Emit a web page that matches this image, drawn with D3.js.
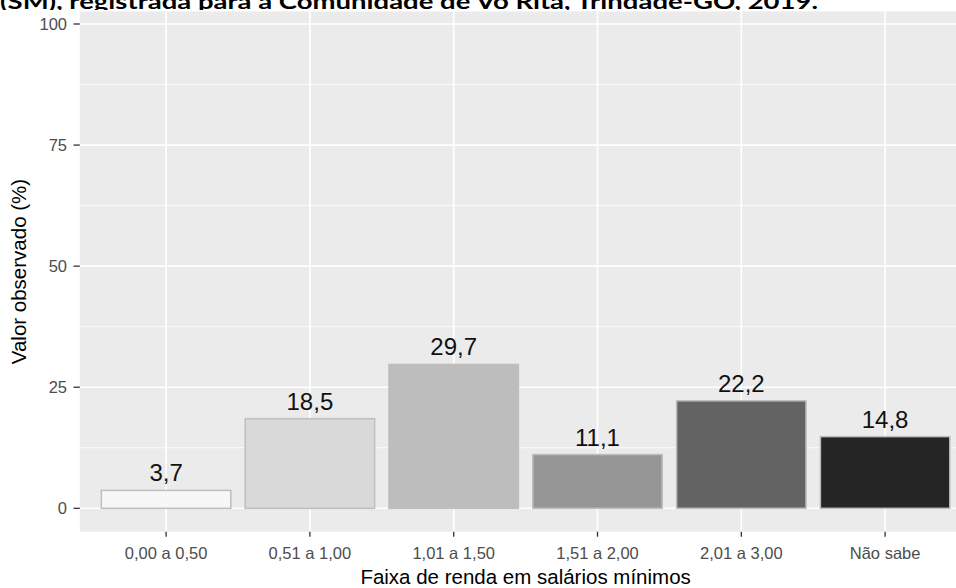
<!DOCTYPE html>
<html><head><meta charset="utf-8">
<script src="https://cdn.jsdelivr.net/npm/d3@7"></script>
<style>html,body{margin:0;padding:0;background:#fff;overflow:hidden}</style>
</head><body>
<script>
const categories = ["0,00 a 0,50","0,51 a 1,00","1,01 a 1,50","1,51 a 2,00","2,01 a 3,00","Não sabe"];
const values = [3.7, 18.5, 29.7, 11.1, 22.2, 14.8];
const labels = ["3,7","18,5","29,7","11,1","22,2","14,8"];
const fills = ["#F7F7F7","#D9D9D9","#BDBDBD","#969696","#636363","#252525"];
const yTicks = [0, 25, 50, 75, 100];
const yMinor = [12.5, 37.5, 62.5, 87.5];
const titleText = "(SM), registrada para a Comunidade de Vó Rita, Trindade-GO, 2019.";
const xTitle = "Faixa de renda em salários mínimos";
const yTitle = "Valor observado (%)";

const W = 956, H = 588;
const svg = d3.select("body").append("svg").attr("width", W).attr("height", H);

const y = d3.scaleLinear().domain([0, 100]).range([508.3, 24]);
const panelTop = y(102.6), panelBottom = y(-4.83);
const panelLeft = 79.8, panelRight = 79.8 + 891.6;
const x = d3.scaleBand().domain(categories).range([panelLeft, panelRight])
  .paddingInner(0.1).paddingOuter(0.15);
const step = x.step();

// title (cropped)
svg.append("defs").append("clipPath").attr("id","tclip")
  .append("rect").attr("x",0).attr("y",0).attr("width",W).attr("height",10);
svg.append("text").attr("clip-path","url(#tclip)")
  .attr("x", 0).attr("y", 8.5)
  .attr("font-family","Lato, 'Open Sans', sans-serif").attr("font-weight","bold")
  .attr("font-size", 20).attr("fill","#000")
  .attr("textLength", 818).attr("lengthAdjust","spacingAndGlyphs")
  .text(titleText);

// panel
svg.append("rect").attr("x", panelLeft).attr("y", panelTop)
  .attr("width", panelRight - panelLeft).attr("height", panelBottom - panelTop)
  .attr("fill", "#EBEBEB");

const g = svg.append("g");
g.selectAll(".ymin").data(yMinor).enter().append("line")
  .attr("x1", panelLeft).attr("x2", panelRight)
  .attr("y1", d => y(d)).attr("y2", d => y(d))
  .attr("stroke","#fff").attr("stroke-width",0.8);
g.selectAll(".ymaj").data(yTicks).enter().append("line")
  .attr("x1", panelLeft).attr("x2", panelRight)
  .attr("y1", d => y(d)).attr("y2", d => y(d))
  .attr("stroke","#fff").attr("stroke-width",1.6);
g.selectAll(".xmaj").data(categories).enter().append("line")
  .attr("x1", d => x(d) + x.bandwidth()/2).attr("x2", d => x(d) + x.bandwidth()/2)
  .attr("y1", panelTop).attr("y2", panelBottom)
  .attr("stroke","#fff").attr("stroke-width",1.6);

// bars
const data = categories.map((c,i) => ({c, v: values[i], l: labels[i], f: fills[i]}));
g.selectAll(".bar").data(data).enter().append("rect")
  .attr("x", d => x(d.c)).attr("width", x.bandwidth())
  .attr("y", d => y(d.v)).attr("height", d => y(0) - y(d.v))
  .attr("fill", d => d.f).attr("stroke", "#BEBEBE").attr("stroke-width", 1.5);

g.selectAll(".lbl").data(data).enter().append("text")
  .attr("x", d => x(d.c) + x.bandwidth()/2).attr("y", d => y(d.v) - 9)
  .attr("text-anchor","middle")
  .attr("font-family","'Liberation Sans', Arial, sans-serif").attr("font-size", 24)
  .attr("fill","#111").text(d => d.l);

// y axis
const yAxis = svg.append("g");
yAxis.selectAll("line").data(yTicks).enter().append("line")
  .attr("x1", 73.5).attr("x2", panelLeft).attr("y1", d => y(d)).attr("y2", d => y(d))
  .attr("stroke","#333").attr("stroke-width",1.3);
yAxis.selectAll("text").data(yTicks).enter().append("text")
  .attr("x", 67).attr("y", d => y(d) + 6)
  .attr("text-anchor","end")
  .attr("font-family","'Liberation Sans', Arial, sans-serif").attr("font-size", 16.5)
  .attr("fill","#4D4D4D").text(d => d);

// x axis
const xAxis = svg.append("g");
xAxis.selectAll("line").data(categories).enter().append("line")
  .attr("x1", d => x(d) + x.bandwidth()/2).attr("x2", d => x(d) + x.bandwidth()/2)
  .attr("y1", panelBottom).attr("y2", panelBottom + 5)
  .attr("stroke","#333").attr("stroke-width",1.3);
xAxis.selectAll("text").data(categories).enter().append("text")
  .attr("x", d => x(d) + x.bandwidth()/2).attr("y", 559)
  .attr("text-anchor","middle")
  .attr("font-family","'Liberation Sans', Arial, sans-serif").attr("font-size", 16.5)
  .attr("fill","#4D4D4D").text(d => d);

// axis titles
svg.append("text").attr("x", (panelLeft + panelRight)/2).attr("y", 584)
  .attr("text-anchor","middle")
  .attr("font-family","'Liberation Sans', Arial, sans-serif").attr("font-size", 20.5)
  .attr("fill","#000").text(xTitle);
svg.append("text")
  .attr("transform", `translate(26,${(panelTop + panelBottom)/2}) rotate(-90)`)
  .attr("text-anchor","middle")
  .attr("font-family","'Liberation Sans', Arial, sans-serif").attr("font-size", 20.5)
  .attr("fill","#000").text(yTitle);
</script>
</body></html>
